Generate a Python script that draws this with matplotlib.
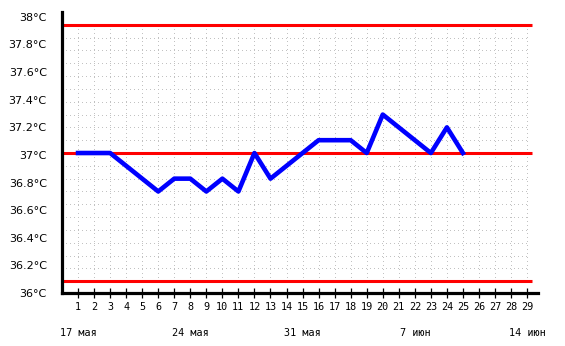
import numpy as np
import matplotlib
matplotlib.use("Agg")
import matplotlib.pyplot as plt
import matplotlib.transforms as mtransforms

# данные: дни цикла и температура
days = list(range(1, 26))
temps = [37.0, 37.0, 37.0, 36.9, 36.8, 36.7, 36.8, 36.8, 36.7, 36.8,
         36.7, 37.0, 36.8, 36.9, 37.0, 37.1, 37.1, 37.1, 37.0, 37.3,
         37.2, 37.1, 37.0, 37.2, 37.0]

ref_lines = [36.0, 37.0, 38.0]
x_days = list(range(1, 30))
week_days = [1, 8, 15, 22, 29]
week_labels = ["17 мая", "24 мая", "31 мая", "7 июн", "14 июн"]
y_labels = ["36°C", "36.2°C", "36.4°C", "36.6°C", "36.8°C", "37°C",
            "37.2°C", "37.4°C", "37.6°C", "37.8°C", "38°C"]

W, H = 565, 346
fig = plt.figure(figsize=(W / 100, H / 100), dpi=100)
# оси в пикселях: x 62..538, y 12..293
ax = fig.add_axes([62 / W, (H - 293) / H, 476 / W, 281 / H])
ax.set_xlim(0, 29.68)
ax.set_ylim(35.938, 38.1)

# пунктирная сетка (точка 1px, шаг 4px)
grid_kw = dict(color="#c2c2c2", lw=0.72, ls=(0, (1, 4)), antialiased=False, zorder=1)
for g in np.arange(36.1, 37.95, 0.1):
    if abs(g - 37.0) < 0.01:
        continue
    ax.plot([0, 29], [g, g], **grid_kw)
for d in x_days:
    ax.plot([d, d], [36.0, 38.0], **grid_kw)

for r in ref_lines:
    ax.plot([0, 29.3], [r, r], color="#ff0000", lw=2.2, solid_capstyle="butt", zorder=2)

ax.plot(days, temps, color="#0000ff", lw=3.3, zorder=3)

for s in ["top", "right"]:
    ax.spines[s].set_visible(False)
for s in ["left", "bottom"]:
    ax.spines[s].set_linewidth(2.3)
    ax.spines[s].set_zorder(4)

# подписи по оси y стоят не точно на значениях (как в оригинале)
ypos = np.linspace(35.908, 38.062, len(y_labels))
ax.set_yticks(ypos, y_labels)
ax.tick_params(axis="y", length=0, pad=11, labelsize=8, labelcolor="black")

ax.set_xticks(x_days, [str(d) for d in x_days])
ax.set_xticks(week_days, minor=True)
ax.tick_params(axis="x", which="major", direction="inout", length=7, width=0.9,
               pad=3, labelsize=7.3)
ax.tick_params(axis="x", which="minor", direction="inout", length=7.5, width=2.3)
for lab in ax.get_xticklabels():
    lab.set_family("DejaVu Sans Mono")

trans = mtransforms.blended_transform_factory(ax.transData, ax.transAxes)
for d, lab in zip(week_days, week_labels):
    ax.text(d, -0.142, lab, transform=trans, ha="center", va="center",
            fontsize=7.3, family="DejaVu Sans Mono")

fig.savefig("out.png", dpi=100)
